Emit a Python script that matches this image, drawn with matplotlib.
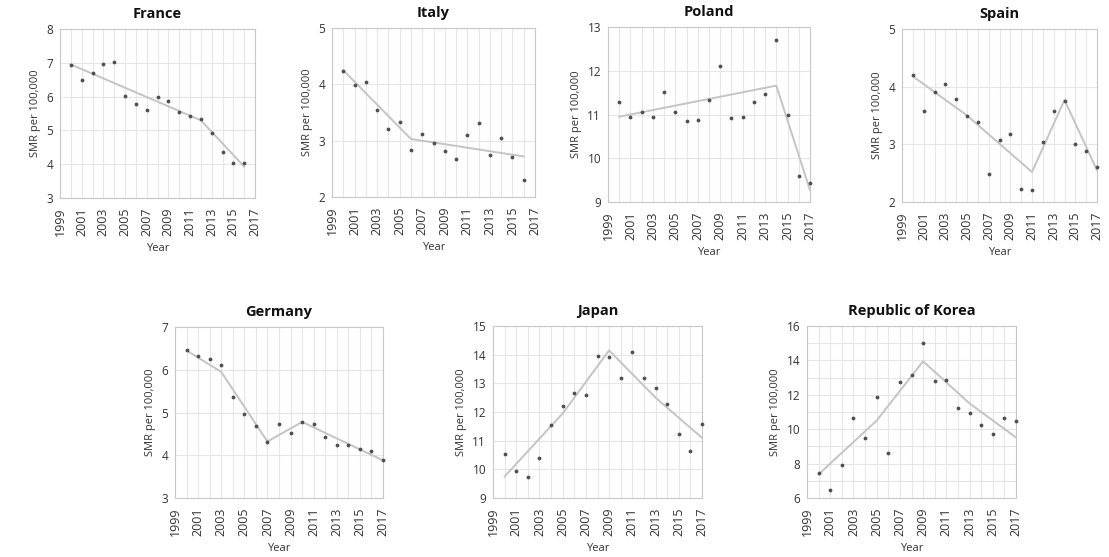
import matplotlib.pyplot as plt
from matplotlib.ticker import MultipleLocator

# Years for the observed SMR points
years_17 = list(range(2000, 2017))
years_18 = list(range(2000, 2018))

france = [6.93, 6.48, 6.69, 6.97, 7.02, 6.02, 5.77, 5.6, 6.0, 5.87, 5.55, 5.43, 5.33, 4.91, 4.35, 4.05, 4.03]
italy = [4.24, 3.99, 4.05, 3.54, 3.2, 3.33, 2.83, 3.11, 2.96, 2.81, 2.68, 3.1, 3.32, 2.74, 3.05, 2.71, 2.31]
poland = [11.28, 10.95, 11.05, 10.95, 11.52, 11.05, 10.86, 10.88, 11.34, 12.11, 10.92, 10.95, 11.29, 11.47, 12.7, 10.99, 9.59, 9.44]
spain = [4.21, 3.58, 3.9, 4.04, 3.78, 3.49, 3.38, 2.48, 3.07, 3.18, 2.23, 2.2, 3.04, 3.58, 3.76, 3.0, 2.89, 2.6]
germany = [6.46, 6.32, 6.25, 6.12, 5.36, 4.96, 4.69, 4.32, 4.72, 4.53, 4.78, 4.73, 4.42, 4.23, 4.23, 4.14, 4.09, 3.88]
japan = [10.52, 9.93, 9.75, 10.4, 11.54, 12.2, 12.68, 12.6, 13.96, 13.93, 13.2, 14.1, 13.2, 12.83, 12.29, 11.25, 10.64, 11.57]
korea = [7.48, 6.45, 7.9, 10.65, 9.46, 11.86, 8.6, 12.75, 13.18, 15.04, 12.83, 12.87, 11.26, 10.94, 10.27, 9.72, 10.68, 10.47]

# Joinpoint trend lines (years, values)
france_trend_x = [2000, 2012, 2016]
france_trend_y = [6.95, 5.3, 3.93]
italy_trend_x = [2000, 2006, 2016]
italy_trend_y = [4.25, 3.03, 2.72]
poland_trend_x = [2000, 2014, 2017]
poland_trend_y = [10.95, 11.66, 9.27]
spain_trend_x = [2000, 2005, 2011, 2014, 2017]
spain_trend_y = [4.18, 3.5, 2.52, 3.77, 2.55]
germany_trend_x = [2000, 2003, 2007, 2010, 2017]
germany_trend_y = [6.45, 5.95, 4.32, 4.78, 3.88]
japan_trend_x = [2000, 2005, 2009, 2013, 2017]
japan_trend_y = [9.75, 11.95, 14.15, 12.5, 11.1]
korea_trend_x = [2000, 2005, 2009, 2013, 2017]
korea_trend_y = [7.38, 10.5, 13.95, 11.5, 9.52]

plt.rcParams['font.family'] = ['Open Sans', 'DejaVu Sans']

fig = plt.figure(figsize=(11.09, 5.57), dpi=100)
W, H = 1109, 557


def add_panel(px_left, px_top, px_right, px_bottom):
    # convert pixel box to figure fraction
    return fig.add_axes([px_left / W, 1 - px_bottom / H,
                         (px_right - px_left) / W, (px_bottom - px_top) / H])


def draw_panel(ax, title, years, values, tx, ty, ylo, yhi, ystep, yminor):
    ax.plot(tx, ty, color='#c4c4c4', lw=1.4, zorder=2)
    ax.scatter(years, values, s=3, color='#505050', zorder=3, clip_on=False)
    ax.set_xlim(1999, 2017)
    ax.set_ylim(ylo, yhi)
    ax.set_xticks(list(range(1999, 2018, 2)))
    ax.xaxis.set_minor_locator(MultipleLocator(1))
    ax.yaxis.set_major_locator(MultipleLocator(ystep))
    if yminor:
        ax.yaxis.set_minor_locator(MultipleLocator(yminor))
    ax.grid(which='both', color='#e6e6e6', lw=0.8, zorder=0)
    ax.set_axisbelow(True)
    ax.tick_params(which='both', length=0, labelsize=8.5, colors='#333333')
    ax.tick_params(axis='x', labelrotation=90, labelsize=9, pad=7)
    ax.tick_params(axis='y', pad=5)
    for s in ax.spines.values():
        s.set_color('#c8c8c8')
    ax.set_title(title, fontsize=10.5, fontweight='bold', color='#111111', pad=8)
    ax.set_ylabel('SMR per 100,000', fontsize=8, color='#333333', labelpad=4)
    ax.set_xlabel('Year', fontsize=8, color='#333333', labelpad=5)


ax = add_panel(60, 29, 255, 198)
draw_panel(ax, 'France', years_17, france, france_trend_x, france_trend_y, 3, 8, 1, None)

ax = add_panel(332, 28, 535, 197)
draw_panel(ax, 'Italy', years_17, italy, italy_trend_x, italy_trend_y, 2, 5, 1, None)

ax = add_panel(608, 27, 810, 202)
draw_panel(ax, 'Poland', years_18, poland, poland_trend_x, poland_trend_y, 9, 13, 1, None)

ax = add_panel(902, 29, 1097, 202)
draw_panel(ax, 'Spain', years_18, spain, spain_trend_x, spain_trend_y, 2, 5, 1, None)

ax = add_panel(175, 327, 383, 498)
draw_panel(ax, 'Germany', years_18, germany, germany_trend_x, germany_trend_y, 3, 7, 1, None)

ax = add_panel(493, 326, 702, 498)
draw_panel(ax, 'Japan', years_18, japan, japan_trend_x, japan_trend_y, 9, 15, 1, None)

ax = add_panel(807, 326, 1016, 498)
draw_panel(ax, 'Republic of Korea', years_18, korea, korea_trend_x, korea_trend_y, 6, 16, 2, 1)

fig.savefig('out.png', dpi=100, facecolor='white')
